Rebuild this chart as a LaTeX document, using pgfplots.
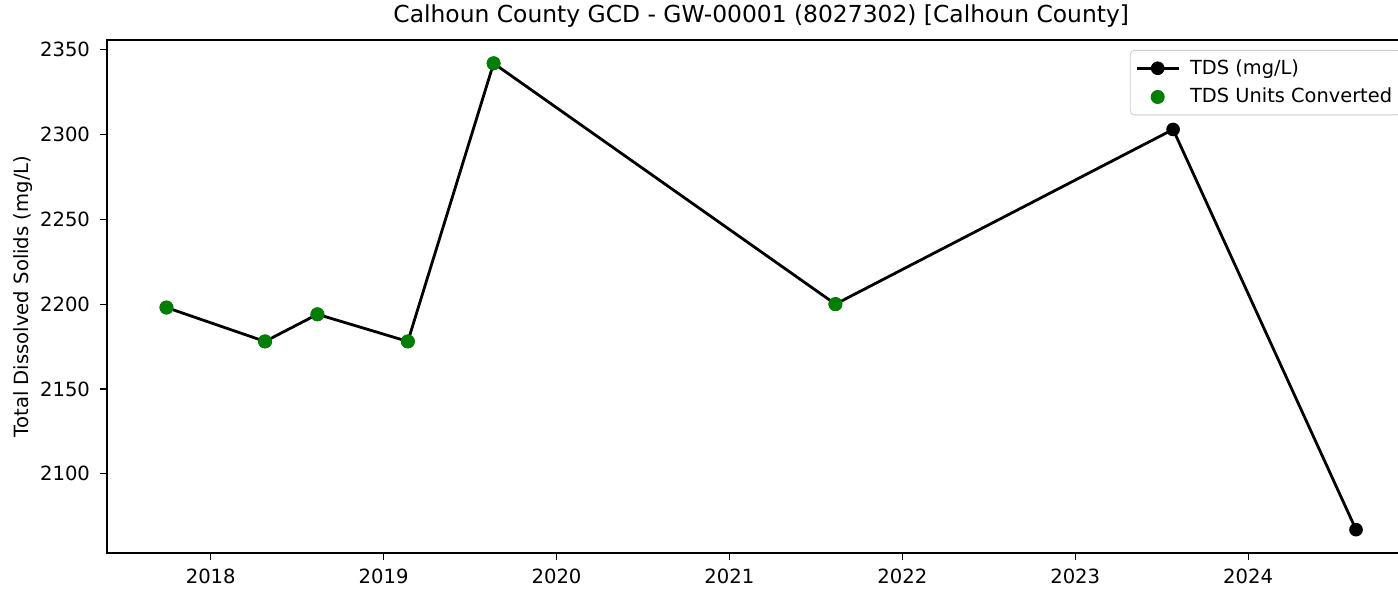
\documentclass[border=0pt]{standalone}
\usepackage{fontspec}
\setmainfont{DejaVu Sans}
\usepackage{pgfplots}
\pgfplotsset{compat=1.18}
\definecolor{mplgreen}{HTML}{008000}
% legend handles: a line with a mark, and a lone mark
\pgfplotsset{
  linelegend/.style={legend image code/.code={%
    \draw[mark repeat=2,mark phase=2,##1,line width=1.4pt] plot coordinates {(0pt,0pt) (10.5pt,0pt) (21pt,0pt)};}},
  marklegend/.style={legend image code/.code={%
    \path[mark repeat=2,mark phase=2,##1] plot coordinates {(0pt,0pt) (10.5pt,0pt) (21pt,0pt)};}},
}
\begin{document}
\begin{tikzpicture}
\begin{axis}[
  name=ax, at={(0pt,0pt)}, anchor=south west,
  scale only axis, width=654.25pt, height=256.5pt,
  xmin=2017.400, xmax=2024.968, ymin=2053.25, ymax=2355.75,
  xtick={2018,2019,2020,2021,2022,2023,2024},
  ytick={2100,2150,2200,2250,2300,2350},
  /pgf/number format/assume math mode=true,
  /pgf/number format/1000 sep={},
  tick align=outside, tick pos=left, major tick length=3.5pt,
  tick style={black, line width=0.6pt},
  axis line style={line width=0.6pt},
  tick label style={font=\fontsize{9.8}{12}\selectfont},
  xticklabel style={yshift=-1pt},
  yticklabel style={xshift=-1.5pt},
  title={Calhoun County GCD - GW-00001 (8027302) [Calhoun County]},
  title style={font=\fontsize{11.7}{14}\selectfont, yshift=-3pt},
  ylabel={Total Dissolved Solids (mg/L)},
  ylabel style={font=\fontsize{9.8}{12}\selectfont, yshift=-3pt},
  clip=false,
  legend cell align=left,
  legend style={at={(rel axis cs:1,1)}, anchor=north east, xshift=-7pt, yshift=-5pt,
    draw=black!20, rounded corners=2pt, fill=white,
    font=\fontsize{9.7}{12}\selectfont, row sep=1.5pt, inner xsep=2.5pt, inner ysep=2.5pt},
]
% measured TDS values
\addplot[black, line width=1.4pt, mark=*, mark size=3.2pt,
  mark options={solid, fill=black, line width=0.4pt}, linelegend]
  coordinates {
    (2017.744,2198) (2018.314,2178) (2018.617,2194) (2019.140,2178)
    (2019.636,2342) (2021.613,2200) (2023.566,2303) (2024.624,2067)
  };
\addlegendentry{\hspace{3pt}TDS (mg/L)}
% samples whose units were converted
\addplot[only marks, mark=*, mark size=3.2pt, color=mplgreen,
  mark options={fill=mplgreen, draw=mplgreen, line width=0.6pt}, marklegend]
  coordinates {
    (2017.744,2198) (2018.314,2178) (2018.617,2194) (2019.140,2178)
    (2019.636,2342) (2021.613,2200)
  };
\addlegendentry{\hspace{3pt}TDS Units Converted}
\end{axis}
\pgfresetboundingbox
\path (-53.5pt,-18.5pt) rectangle (645.5pt,276.5pt);
\end{tikzpicture}
\end{document}
